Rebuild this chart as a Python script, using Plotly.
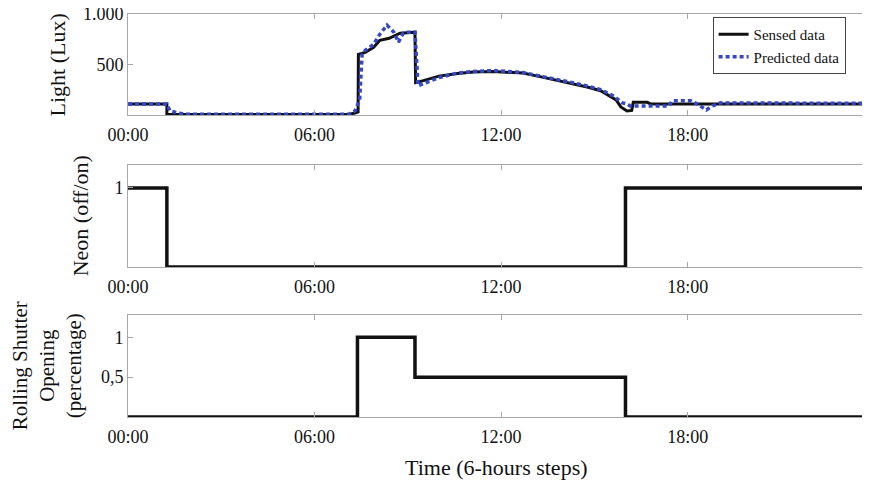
import plotly.graph_objects as go

# ---------------- data ----------------
hours_ticks = [0, 6, 12, 18]
hour_labels = ["00:00", "06:00", "12:00", "18:00"]

sensed_t = [0, 1.25, 1.25, 1.6, 7.1, 7.3, 7.4, 7.41, 7.63, 7.9, 8.1, 8.4, 8.75, 9.23, 9.25, 9.5,
            10.0, 10.6, 11.1, 11.75, 12.3, 12.7, 13.25, 13.8, 14.3, 14.8, 15.2, 15.5, 15.7,
            15.85, 16.05, 16.2, 16.25, 16.7, 16.8, 18.0, 18.6, 23.8]
sensed_lux = [110, 110, 5, 5, 5, 20, 30, 600, 620, 670, 740, 760, 810, 820, 320, 340,
              385, 410, 425, 430, 425, 415, 380, 345, 310, 275, 240, 190, 150,
              80, 40, 45, 125, 125, 110, 110, 110, 110]

pred_t = [0, 1.25, 1.35, 1.6, 1.9, 7.1, 7.3, 7.45, 7.53, 7.63, 7.9, 8.1, 8.33, 8.55, 8.7,
          8.85, 9.0, 9.23, 9.33, 9.6, 10.0, 10.6, 11.1, 11.75, 12.3, 12.7, 13.25, 13.8,
          14.3, 14.8, 15.2, 15.6, 15.9, 16.05, 16.15, 17.4, 17.5, 18.1, 18.3, 18.6, 18.8,
          19.05, 23.8]
pred_lux = [110, 110, 40, 20, 8, 8, 40, 150, 600, 640, 700, 800, 890, 820, 720,
            810, 820, 820, 290, 320, 370, 415, 430, 440, 430, 420, 385, 355,
            320, 285, 250, 190, 120, 110, 90, 90, 140, 140, 110, 50, 90,
            120, 115]

neon_t = [0, 1.25, 16.0, 23.8]
neon_state = [1, 0, 1, 1]

shutter_t = [0, 7.38, 9.23, 16.0, 23.8]
shutter_open = [0, 1, 0.5, 0, 0]

# ---------------- figure ----------------
FONT = "Liberation Serif"
BLACK = "#111111"
BLUE = "#3347c8"
FRAME = "#a8a8a8"

fig = go.Figure()
fig.add_trace(go.Scatter(x=sensed_t, y=sensed_lux, mode="lines", name="Sensed data",
                         line=dict(color=BLACK, width=3), xaxis="x", yaxis="y"))
fig.add_trace(go.Scatter(x=pred_t, y=pred_lux, mode="lines", name="Predicted data",
                         line=dict(color=BLUE, width=3.5, dash="4px,3px"), xaxis="x", yaxis="y"))
fig.add_trace(go.Scatter(x=neon_t, y=neon_state, mode="lines", showlegend=False,
                         line=dict(color=BLACK, width=3.5, shape="hv"), xaxis="x2", yaxis="y2"))
fig.add_trace(go.Scatter(x=shutter_t, y=shutter_open, mode="lines", showlegend=False,
                         line=dict(color=BLACK, width=3.5, shape="hv"), xaxis="x3", yaxis="y3"))

xcommon = dict(range=[0, 23.8], tickvals=hours_ticks, ticktext=hour_labels,
               showline=True, linecolor=FRAME, linewidth=1, mirror="ticks",
               ticks="inside", ticklen=5, tickcolor=FRAME, showgrid=False, zeroline=False,
               ticklabeloverflow="allow", automargin=False, ticklabelstandoff=3,
               tickfont=dict(family=FONT, size=18, color=BLACK))
ycommon = dict(showline=True, linecolor=FRAME, linewidth=1, mirror="ticks",
               ticks="inside", ticklen=5, tickcolor=FRAME, showgrid=False, zeroline=False,
               ticklabeloverflow="allow", automargin=False,
               tickfont=dict(family=FONT, size=18, color=BLACK))

fig.update_layout(
    width=862, height=477,
    margin=dict(l=120, r=2, t=6, b=68, autoexpand=False),
    paper_bgcolor="white", plot_bgcolor="white",
    xaxis=dict(xcommon, anchor="y"),
    xaxis2=dict(xcommon, anchor="y2"),
    xaxis3=dict(xcommon, anchor="y3"),
    yaxis=dict(ycommon, domain=[0.7494, 1.0], range=[0, 1000], tickvals=[500, 1000],
               ticktext=["500", "1.000"], anchor="x"),
    yaxis2=dict(ycommon, domain=[0.3722, 0.6253], range=[0, 1.29], tickvals=[1],
                ticktext=["1"], anchor="x2"),
    yaxis3=dict(ycommon, domain=[0, 0.2531], range=[0, 1.28], tickvals=[0.5, 1],
                ticktext=["0,5", "1"], anchor="x3"),
    legend=dict(x=0.79, y=0.9926, xanchor="left", yanchor="top",
                bgcolor="white", bordercolor="#444444", borderwidth=1,
                font=dict(family=FONT, size=15, color=BLACK),
                tracegroupgap=0, itemwidth=30),
    showlegend=True,
)

ann_font = dict(family=FONT, size=22, color=BLACK)
fig.add_annotation(text="Light (Lux)", xref="paper", yref="paper", x=-0.095, y=0.874,
                   xanchor="center", yanchor="middle", textangle=-90, showarrow=False, font=ann_font)
fig.add_annotation(text="Neon (off/on)", xref="paper", yref="paper", x=-0.063, y=0.499,
                   xanchor="center", yanchor="middle", textangle=-90, showarrow=False, font=ann_font)
fig.add_annotation(text="Rolling Shutter<br>Opening<br>(percentage)", xref="paper", yref="paper",
                   x=-0.109, y=0.127, xanchor="center", yanchor="middle", textangle=-90,
                   showarrow=False, font=dict(family=FONT, size=21, color=BLACK))
fig.add_annotation(text="Time (6-hours steps)", xref="paper", yref="paper", x=0.498, y=-0.125,
                   xanchor="center", yanchor="middle", showarrow=False, font=ann_font)

fig.write_html("out.html")
